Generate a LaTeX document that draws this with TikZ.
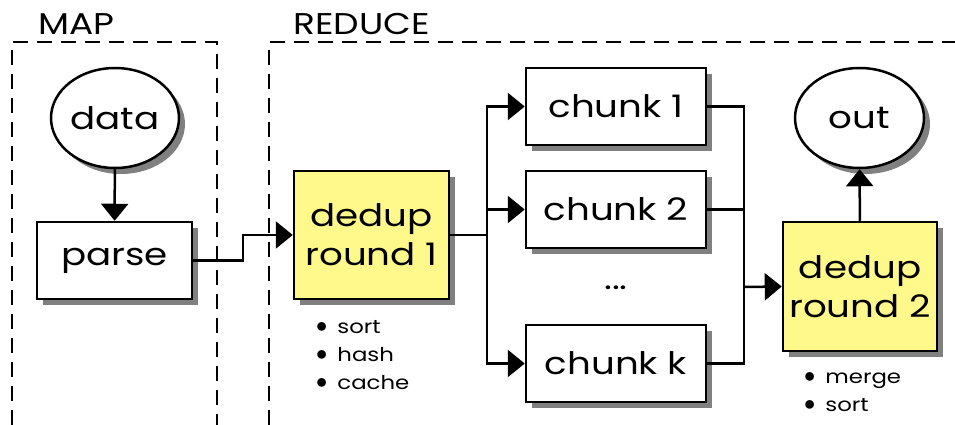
\documentclass[tikz,border=0pt]{standalone}
\usepackage{fontspec}
\usepackage{graphicx}
\setmainfont{Poppins}[FakeStretch=1.2]
\usetikzlibrary{arrows.meta,shadows,shapes.geometric}
\newcommand{\notedot}{\raisebox{0.5pt}{\scalebox{1.3}{$\bullet$}}}
\begin{document}
\begin{tikzpicture}[x=1pt,y=-1pt,
  shade/.style={drop shadow={shadow xshift=6pt,shadow yshift=-6pt,fill=black!50,opacity=1}},
  bigfont/.style={font=\fontsize{31}{39}\selectfont},
  box/.style={draw,line width=2.5pt,rectangle,fill=white,shade,bigfont,inner sep=0pt,align=center},
  stage/.style={box,fill=yellow!45,minimum width=155pt,minimum height=128pt},
  chunkbox/.style={box,minimum width=180pt,minimum height=77pt},
  term/.style={draw,line width=2.5pt,ellipse,fill=white,shade,bigfont,inner sep=0pt,minimum width=128pt,minimum height=100pt},
  conn/.style={line width=2.5pt},
  arr/.style={conn,-{Triangle[length=17pt,width=27pt]}},
  region/.style={line width=2pt,dash pattern=on 15pt off 9pt},
  notes/.style={font=\fontsize{19}{28}\selectfont,anchor=base west,inner sep=0pt},
  title/.style={font=\fontsize{30}{36}\selectfont,anchor=base west,inner sep=0pt}
]
\useasboundingbox (0,0) rectangle (955,425);

% phase regions (open at the bottom and right)
\draw[region] (12,425) -- (12,42) -- (217,42) -- (217,425);
\draw[region] (269,425) -- (269,42) -- (955,42);
\node[title] (maplbl) at (38,35) {MAP};
\node[title] (redlbl) at (293,35) {REDUCE};

% map phase
\node[term] (data) at (115,118) {data};
\node[box,minimum width=155pt,minimum height=77pt] (parse) at (114.5,260.5) {parse};
\draw[arr] (data) -- (parse);

% reduce phase
\node[stage] (d1) at (371.5,235) {dedup\\round 1};
\node[chunkbox] (c1) at (616,106.5) {chunk 1};
\node[chunkbox] (c2) at (616,209.5) {chunk 2};
\node[bigfont,inner sep=0pt] (dots) at (616,288) {...};
\node[chunkbox] (ck) at (616,363.5) {chunk k};
\node[stage,minimum width=154pt,minimum height=129pt] (d2) at (860,286.5) {dedup\\round 2};
\node[term,minimum width=129pt] (out) at (859.5,118) {out};

% notes under the dedup stages
\node[notes] (n1) at (316,333) {\begin{tabular}[t]{@{}l@{\hspace{10pt}}l@{}}\notedot & sort\\ \notedot & hash\\ \notedot & cache\end{tabular}};
\node[notes] (n2) at (804,383) {\begin{tabular}[t]{@{}l@{\hspace{10pt}}l@{}}\notedot & merge\\ \notedot & sort\end{tabular}};

% connectors
\coordinate (hop) at (243,0);
\draw[arr] (parse.east) -- (parse.east -| hop) |- (d1.west);

\coordinate (fork) at (487,235);
\draw[conn] (d1.east) -- (fork);
\draw[arr] (fork) |- (c1.west);
\draw[arr] (fork) |- (c2.west);
\draw[arr] (fork) |- (ck.west);

\coordinate (join) at (744,287);
\draw[conn] (c1.east) -| (join);
\draw[conn] (c2.east) -| (join);
\draw[conn] (ck.east) -| (join);
\draw[arr] (join) -- (d2.west);

\draw[arr] (d2) -- (out);
\end{tikzpicture}
\end{document}
